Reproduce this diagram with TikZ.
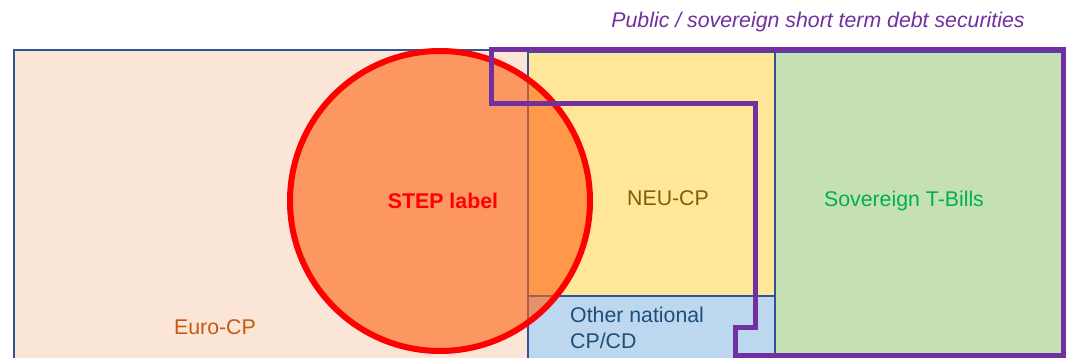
\documentclass[tikz,border=0pt]{standalone}
\usepackage{fontspec}
\setmainfont{Liberation Sans}
\definecolor{eurofill}{RGB}{251,229,214}
\definecolor{neufill}{RGB}{255,230,153}
\definecolor{sovfill}{RGB}{197,224,180}
\definecolor{othfill}{RGB}{189,215,238}
\definecolor{boxline}{RGB}{47,85,151}
\definecolor{publine}{RGB}{112,48,160}
\definecolor{stepfill}{RGB}{255,100,20}
\definecolor{eurotext}{RGB}{197,90,17}
\definecolor{neutext}{RGB}{127,96,0}
\definecolor{sovtext}{RGB}{0,176,80}
\definecolor{othtext}{RGB}{31,78,121}

\begin{document}
\begin{tikzpicture}
  [x=1pt,y=-1pt,
    every node/.style={font=\fontsize{21.3}{26}\selectfont,inner sep=0pt},
    box/.style={draw=boxline,line width=2pt},
    stepcircle/.style={draw=red,line width=6pt,fill=stepfill,fill opacity=0.6},
    publine/.style={draw=publine,line width=5pt,line join=miter},
]
  \clip (0,0) rectangle (1066,358);
  % market segments
  \fill[eurofill,box] (14,50) rectangle (528,380);
  \fill[neufill,box] (528,52) rectangle (775,296);
  \fill[othfill,box] (528,296) rectangle (775,380);
  \fill[sovfill,box] (775,52) rectangle (1063,380);
  % STEP label
  \draw[stepcircle] (440,201) circle (150pt);
  % public / sovereign
  \draw[publine] (491,50) -- (1063,50) -- (1063,355) -- (735,355)
    -- (735,327) -- (755,327) -- (755,104) -- (491,104) -- cycle;
  \node[text=publine,font=\fontsize{21.3}{26}\selectfont\itshape] (pub) at (818,22)
    {Public / sovereign short term debt securities};
  \node[text=red,font=\fontsize{21.3}{26}\selectfont\bfseries] (step) at (443,201) {STEP label};
  \node[text=neutext] (neu) at (668,198) {NEU-CP};
  \node[text=sovtext] (sov) at (904,201) {Sovereign T-Bills};
  \node[text=eurotext] (euro) at (215,327) {Euro-CP};
  \node[text=othtext,align=left,anchor=west] (oth) at (570,328) {Other national\\CP/CD};
\end{tikzpicture}
\end{document}
